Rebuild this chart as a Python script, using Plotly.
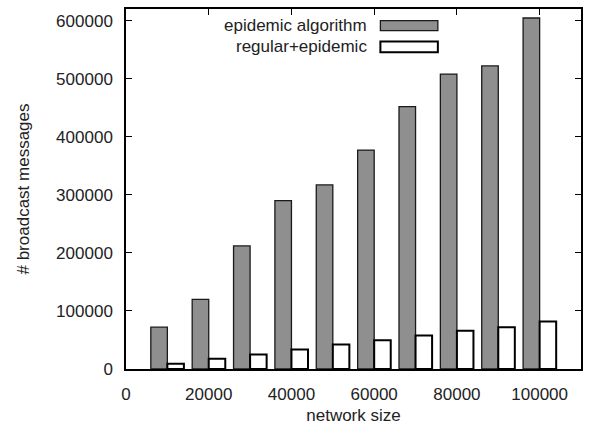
import plotly.graph_objects as go

network_size = [10000, 20000, 30000, 40000, 50000, 60000, 70000, 80000, 90000, 100000]
epidemic_algorithm = [72000, 120000, 212000, 290000, 317000, 377000, 452000, 508000, 522000, 604500]
regular_epidemic = [9000, 17500, 25000, 33500, 42000, 49500, 57500, 66000, 72000, 82000]
series_names = ["epidemic algorithm", "regular+epidemic"]

FONT = "Liberation Sans, Arial, Helvetica, sans-serif"
GRAY = "#8f8f8f"

fig = go.Figure()
fig.add_trace(go.Bar(
    x=network_size, y=epidemic_algorithm, name=series_names[0],
    width=4000, offset=-4000,
    marker=dict(color=GRAY, line=dict(color="#1a1a1a", width=1.3)),
    showlegend=False,
))
fig.add_trace(go.Bar(
    x=network_size, y=regular_epidemic, name=series_names[1],
    width=4000, offset=0,
    marker=dict(color="white", line=dict(color="black", width=2)),
    showlegend=False,
))

# legend drawn gnuplot-style (text left, sample right)
rows = [(0.9536, 0.9675, 0.9397, GRAY, "#1a1a1a", 1.3),
        (0.8952, 0.9099, 0.8800, "white", "black", 2)]
for name, (yc, y0, y1, fc, lc, lw) in zip(series_names, rows):
    fig.add_annotation(x=0.535, y=yc, xref="paper", yref="paper", text=name,
                       showarrow=False, xanchor="right", yanchor="middle",
                       font=dict(family=FONT, size=17, color="#222"))
    fig.add_shape(type="rect", xref="paper", yref="paper",
                  x0=0.5591, x1=0.6854, y0=y1, y1=y0,
                  fillcolor=fc, line=dict(color=lc, width=lw))

axis_common = dict(
    showline=True, linecolor="black", linewidth=1.5, mirror="ticks",
    ticks="inside", ticklen=6, tickwidth=1, tickcolor="black",
    showgrid=False, zeroline=False,
    tickfont=dict(family=FONT, size=17, color="#222"),
)
fig.update_xaxes(range=[0, 110000], dtick=20000, tickformat="d",
                 ticklabelstandoff=9,
                 title=dict(text="network size", standoff=6,
                            font=dict(family=FONT, size=17, color="#222")),
                 **axis_common)
fig.update_yaxes(range=[0, 620000], dtick=100000, tickformat="d",
                 ticklabelstandoff=8,
                 title=dict(text="# broadcast messages", standoff=22,
                            font=dict(family=FONT, size=17, color="#222")),
                 **axis_common)

fig.update_layout(
    width=589, height=433,
    margin=dict(l=126, r=6, t=9, b=64),
    paper_bgcolor="white", plot_bgcolor="white",
    barmode="overlay",
    font=dict(family=FONT, color="#222"),
)

fig.write_html("out.html")
